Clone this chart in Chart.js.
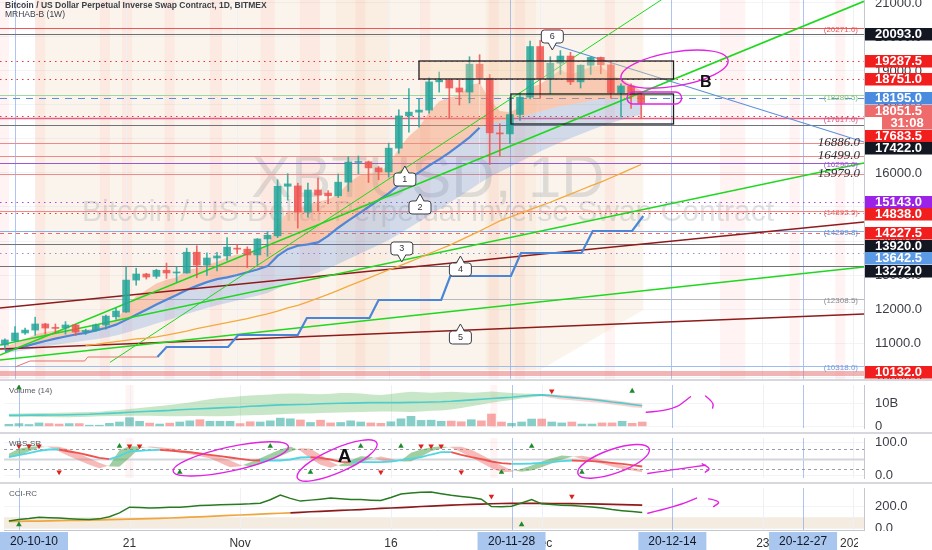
<!DOCTYPE html>
<html>
<head>
<meta charset="utf-8">
<title>XBTUSD 1D</title>
<script src="https://cdn.jsdelivr.net/npm/chart.js@4.4.1/dist/chart.umd.min.js"></script>
<style>
  html, body { margin: 0; padding: 0; background: #fff; }
  body { width: 932px; height: 550px; position: relative; overflow: hidden; }
  .pane { position: absolute; left: 0; width: 932px; }
  .sep { position: absolute; left: 0; width: 932px; height: 2px; background: #d6d8de; }
</style>
</head>
<body>
<div class="pane" style="top:0;height:379px"><canvas id="mainChart"></canvas></div>
<div class="sep" style="top:379px"></div>
<div class="pane" style="top:381px;height:51px"><canvas id="volChart"></canvas></div>
<div class="sep" style="top:432px"></div>
<div class="pane" style="top:434px;height:48px"><canvas id="wtChart"></canvas></div>
<div class="sep" style="top:482px"></div>
<div class="pane" style="top:484px;height:66px"><canvas id="cciChart"></canvas></div>
<script>
// day 0 = 2020-10-10, first candle is 2020-10-09
const FIRST_DAY = -1;

// daily candles, XBTUSD (BitMEX), 2020-10-09 .. 2020-12-11
const openP = [10940,11060,11295,11380,11560,11440,11440,11530,11330,11370,
  11530,11770,11910,12850,13030,12960,13140,13060,13060,13670,
  13290,13500,13560,13790,13760,13590,14060,14150,15610,15620,
  14850,15500,15410,15330,15730,16310,16330,16150,16030,16730,
  17680,17790,17850,18680,18730,18500,18380,19200,18790,17180,
  17150,17720,18230,19720,18770,19230,19440,18680,19170,19400,
  19180,18360,18560,18290];
const highP = [11120,11480,11440,11760,11580,11560,11630,11550,11410,11560,
  11820,12020,13230,13200,13050,13170,13350,13250,13790,13860,
  13650,13670,14100,13900,13830,14070,14280,15800,15980,15700,
  15700,15850,15480,15970,16480,16500,16350,16190,16880,17860,
  18480,18180,18800,18970,18760,18740,19420,19480,18900,17450,
  18230,18350,19880,19900,19420,19600,19550,19180,19420,19410,
  19290,18620,18620,18360];
const lowP = [10830,11060,11250,11230,11260,11300,11260,11220,11250,11340,
  11410,11690,11900,12700,12880,12900,12900,12800,13050,12920,
  12990,13120,13430,13640,13220,13300,13550,14100,15200,14380,
  14700,14870,15100,15280,15460,15980,15720,15800,15880,16580,
  17200,17350,17760,18380,17620,18000,18060,18620,16250,16500,
  16870,17550,18180,18200,18330,18900,18600,18500,18900,18920,
  18200,17650,17900,17600];
const closeP = [11090,11295,11380,11560,11440,11430,11530,11320,11370,11530,
  11790,11940,12850,13030,12940,13140,13060,13070,13670,13290,
  13500,13560,13820,13760,13590,14060,14170,15610,15680,14850,
  15500,15350,15330,15730,16320,16330,16150,16030,16730,17680,
  17790,17850,18680,18730,18500,18380,19200,18790,17180,17150,
  17720,18230,19720,18770,19230,19440,18680,19170,19400,19180,
  18360,18560,18290,18051.5];

// MRHAB ribbon
const emaFast = [10900,11000,11120,11250,11320,11360,11410,11390,11390,11430,
  11550,11680,12050,12380,12560,12750,12860,12930,13150,13200,
  13300,13380,13520,13600,13600,13750,13890,14460,14870,14860,
  15070,15160,15220,15390,15700,15910,15990,16000,16240,16720,
  17080,17340,17790,18100,18230,18280,18590,18650,18160,17820,
  17790,17940,18530,18610,18820,19030,18910,18990,19130,19150,
  18880,18770,18610,18420];
const emaSlow = [10760,10830,10900,10980,11060,11130,11190,11250,11300,11370,
  11440,11540,11680,11830,11980,12130,12270,12410,12560,12680,
  12790,12880,12930,13000,13080,13160,13260,13560,13760,13860,
  13900,13960,14150,14390,14600,14800,15000,15200,15400,15640,
  15830,16020,16220,16400,16600,16820,17050,17330,17450,17530,
  17580,17640,17730,17800,17880,17960,18010,18060,18120,18160,
  18170,18180,18180,18170];
const emaSlowLow = [10700,10740,10790,10840,10890,10940,10990,11030,11070,11110,
  11160,11220,11300,11390,11480,11570,11660,11750,11850,11940,
  12030,12110,12180,12250,12320,12390,12470,12600,12730,12850,
  12960,13070,13190,13320,13460,13600,13740,13880,14030,14200,
  14380,14560,14750,14930,15120,15310,15500,15700,15880,16030,
  16180,16330,16480,16630,16770,16900,17020,17140,17260,17370,
  17470,17560,17640,17710];
const maOrange = [null,null,null,null,null,null,null,null,
  10930,10960,11000,11040,11080,11120,11140,11180,11230,11290,
  11350,11420,11480,11540,11600,11660,11720,11790,11860,11940,
  12030,12110,12210,12320,12430,12550,12670,12790,12910,13030,
  13150,13260,13380,13500,13630,13750,13870,14010,14150,14290,
  14440,14590,14700,14810,14920,15030,15140,15260,15380,15500,
  15620,15730,15860,15990,16120,16250];

// weekly step level (MRHAB-B 1W)
const blueStepDays = [14.1,15.0,21.1,22.1,28.0,28.9,35.1,36.0,42.2,43.1,49.1,50.1,56.1,57.2,61.1,62.2];
const blueStepPrices = [10588,10883,10883,11236,11236,11736,11736,12265,12265,12971,12971,13647,13647,14294,14294,14735];
const redStepDays = [0,1.5,6.9,7.2,14.1];
const redStepPrices = [10294,10471,10471,10588,10588];

// trend lines [day, price] -> [day, price]
const greenTrends = [
  [[-1.485,10647],[84.06,21050]],
  [[-1.485,10941],[84.06,16294]],
  [[-1.485,10500],[84.06,13235]],
  [[9.4,10430],[65,21290]]
];
const maroonTrends = [
  [[-1.485,12030],[84.06,14559]],
  [[-1.485,10824],[84.06,11853]]
];
const blueTrend = [[52.5,19853],[84.06,16912]];

// horizontal levels
const levelPrices = [20271,20093,19287.5,18751,18280.5,18195,17683.5,17617,17422,16886,16499,16290,15979,
  15143,14892.5,14838,14299.8,14227.5,13920,13642.5,13272,12308.5,10318,10132];
const tagPrices = [20271,18280.5,17617,16290,14892.5,14299.8,12308.5,10318];
const italicTagPrices = [16886,16499,15979];

// right axis price labels
const axisLabelPrices = [20093,19287.5,18751,18195,18051.5,17683.5,17422,15143,14838,14227.5,13920,13642.5,13272,10132];
const countdownText = '31:08';

// zones and annotations
const zoneBoxes = [[40.0,65.2,18765,19294],[49.1,65.2,17441,18324]];
const calloutLabels = ['1','2','3','4','5','6'];
const calloutDays = [38.6,40.1,38.3,44.1,44.1,53.2];
const calloutPrices = [16206,15383,13383,13559,11559,19618];
const calloutDirs = ['up','up','down','up','up','down'];
const beigeZone = [[2,21088],[62.2,21088],[62.2,11970],[52,10206],[2,10206]];
const beigeBands = [[31.8,37],[46.6,51.6]];
const mainStripes = [[-1.5,-0.6],[2,3],[8.4,9.4],[10.6,11.6],[14.8,15.8],[19.3,20.5],[24.3,25.7],[28.2,30.2],
  [33.7,34.7],[40.1,41.1],[46.9,47.9],[49.5,50.5],[58.4,59.4],[69.8,72.3],[76.7,77.7],[81.2,82.2]];
const lowerStripes = [[10.6,11.4],[46.9,47.6]];
const ellipseB = [60.0,18790,70.6,19320];
const pillB = [60.6,66.0,18383,18030];
const letterB = [68.4,18647];

// volume pane (billions)
const volumeB = [0.9,1.2,0.8,1.5,1.2,1.0,1.2,1.2,0.5,0.5,
  1.3,1.9,3.8,2.2,1.4,1.0,1.4,1.9,2.4,2.9,
  2.2,2.2,2.2,1.2,2.0,1.9,2.4,3.6,3.3,2.8,
  1.7,2.7,1.5,1.7,2.4,1.9,1.5,1.3,2.0,3.3,
  4.4,2.6,2.7,2.2,2.3,2.0,2.9,2.4,5.4,1.9,
  1.3,1.9,3.2,3.2,1.9,1.5,1.9,1.0,1.0,1.5,
  1.5,2.2,1.3,1.9];
const volMA = [4.8,4.8,4.9,4.9,5.0,5.0,5.1,5.2,5.3,5.5,
  5.7,5.9,6.2,6.4,6.6,6.8,7.0,7.3,7.5,7.7,
  7.9,8.1,8.3,8.5,8.8,9.0,9.2,9.4,9.5,9.6,
  9.7,9.9,10.0,10.1,10.2,10.3,10.4,10.4,10.4,10.4,
  10.5,10.6,10.7,10.8,11.0,11.3,11.6,11.9,12.2,12.5,
  12.8,13.2,13.6,13.8,13.5,13.0,12.6,12.2,11.8,11.3,
  10.7,10.2,9.6,9.0];
const volUpper = [5.5,5.6,5.7,5.8,5.9,6.0,6.1,6.2,6.3,6.4,
  6.8,7.2,7.6,8.0,8.5,8.9,9.4,9.9,10.5,11.2,
  11.9,12.4,12.8,13.2,13.5,13.8,14.0,14.3,14.4,14.4,
  14.2,14.1,14.3,14.6,14.6,14.4,14.0,13.8,14.2,14.8,
  15.2,15.0,14.8,15.0,15.2,15.0,14.8,15.0,15.3,15.0,
  14.6,14.4,14.3,14.2,14.0,13.8,13.4,13.0,12.6,12.0,
  11.6,11.0,10.4,10.0];
const volLower = [4.2,4.2,4.2,4.1,4.1,4.0,4.0,4.1,4.2,4.4,
  4.5,4.5,4.6,4.6,4.6,4.5,4.4,4.4,4.5,4.5,
  4.4,4.4,4.5,4.7,4.9,5.0,5.1,5.3,5.5,5.6,
  5.6,5.8,6.0,6.1,6.2,6.3,6.4,6.5,6.5,6.4,
  6.3,6.5,6.8,7.0,7.4,8.0,8.8,9.6,10.3,11.0,
  11.6,12.2,12.8,13.2,12.4,11.8,11.4,11.0,10.6,10.2,
  9.6,9.0,8.4,8.0];
const volUpDays = [0,61], volUpValues = [17,15.5];
const volDownDays = [53], volDownValues = [15.5];
const volArrow = [[[62.4,6.2],[65.0,6.8],[66.8,13.0]],[[68.3,13.3],[69.1,10.5],[69.0,8.0]]];

// wave trend pane
const wtMain = [55,61,67,74,78,78,72,67,60,53,
  49,58,72,74,76,77,75,72,70,66,
  62,58,54,50,46,45,45,45,48,54,
  55,53,48,41,40,40,40,40,42,46,
  50,55,63,70,70,62,55,49,42,37,
  35,35,36,38,40,43,45,44,43,41,
  38,35,31,27];
const wtFast = [65,80,86,88,85,72,58,45,32,22,
  30,76,88,87,84,80,76,70,64,58,
  52,38,25,28,40,52,65,78,87,74,
  50,32,23,33,45,58,56,45,40,45,
  68,78,85,88,84,70,55,38,22,10,
  11,20,30,42,52,60,58,50,43,35,
  27,20,15,10];
const wtSlow = [55,60,72,83,87,86,78,65,52,38,
  27,26,53,82,87,85,82,78,73,67,
  61,55,45,32,27,34,46,58,71,82,
  80,62,41,28,28,39,51,57,50,42,
  42,56,73,81,86,86,77,62,46,30,
  16,11,15,25,36,47,56,59,54,46,
  39,31,23,17];
const wtTopRedDays = [0,1,2,11,12,40,41,42];
const wtTopGreenDays = [10,25,34,38,51];
const wtBotRedDays = [4,36,44];
const wtBotGreenDays = [16,29,48,56];
const wtTopLevel = 88, wtBotLevel = 10;
const wtBands = [80,50,20];
const wtEllipses = [[15.35,12.5,26.8,87.5],[27.7,-7.5,35.6,97.5],[55.6,5,62.7,80]];
const wtArrow = [[[62.56,5.8],[66.2,22.5],[68.3,30.8]],[[67.97,35],[68.86,22.5],[68.27,10]]];
const letterA = [32.4,55];

// CCI pane
const cci = [65,80,88,100,95,92,86,82,80,85,
  105,140,192,188,183,186,190,192,198,206,
  210,214,217,219,222,228,260,303,272,247,
  256,265,275,268,262,261,256,253,280,312,
  320,328,330,315,300,290,280,265,197,196,
  200,230,261,222,215,210,206,200,194,185,
  170,160,152,144];
const cciSlow = [61,62,64,65,67,68,70,72,74,76,
  78,80,82,84,87,90,93,97,100,104,
  108,112,116,120,124,128,132,136,140,145,
  150,154,158,162,166,170,175,180,184,188,
  193,198,202,206,210,214,217,220,223,225,
  226,226,226,226,225,225,224,223,221,219,
  217,215,213,211];
const cciUpDays = [0,50], cciDownDays = [47,55];
const cciUpLevel = 33, cciDownLevel = 290;
const cciZone = [0,100];
const cciArrow = [[[62.56,136],[65.6,206],[67.4,275]],[[68.6,267],[69.9,247],[69.1,197]]];

// time axis
const xTickDays = [11,22,37,52,74,83];
const xTickLabels = ['21','Nov','16','Dec','23','2021'];
const markerDays = [0,49,65,78];
const markerLabels = ['20-10-10','20-11-28','20-12-14','20-12-27'];

// ---------------------------------------------------------------
const X_MIN = -1.485, X_MAX = 84.06, AXIS_W = 68;
const FONT = '"Liberation Sans", Arial, sans-serif';
const TEAL = 'rgba(38,166,154,0.85)', RED = 'rgba(239,83,80,0.85)';
const MAGENTA = '#e323e3';

Chart.defaults.animation = false;
Chart.defaults.responsive = true;
Chart.defaults.maintainAspectRatio = false;
Chart.defaults.events = [];
Chart.defaults.font.family = FONT;
Chart.defaults.plugins.legend.display = false;
Chart.defaults.plugins.tooltip.enabled = false;
Chart.defaults.elements.point.radius = 0;
Chart.defaults.elements.line.tension = 0;
Chart.defaults.layout.padding = 0;

const dayOf = i => i + FIRST_DAY;
const pts = arr => arr.map((v, i) => ({x: dayOf(i), y: v}));
const pairPts = (days, vals) => days.map((d, i) => ({x: d, y: vals[i]}));
const segPts = seg => seg.map(([d, v]) => ({x: d, y: v}));
const isUp = closeP.map((c, i) => c >= openP[i]);

// the label padding of the axes must not shrink the plot area
function noPadding(sc) {
  sc.paddingTop = 0; sc.paddingBottom = 0; sc.paddingLeft = 0; sc.paddingRight = 0;
}

function xScale(showLabels) {
  const s = {type: 'linear', min: X_MIN, max: X_MAX, display: showLabels, offset: false};
  if (showLabels) {
    Object.assign(s, {
      afterBuildTicks: sc => { sc.ticks = xTickDays.map(v => ({value: v})); },
      afterFit: sc => { sc.height = 20; noPadding(sc); },
      ticks: {autoSkip: false, maxRotation: 0, padding: -2, color: '#333', font: {size: 12},
        callback: v => xTickLabels[xTickDays.indexOf(v)]},
      grid: {display: false},
      border: {display: true, color: '#c4c7ce'}
    });
  }
  return s;
}

function yScale(min, max, ticks, fmt) {
  return {
    position: 'right', min, max,
    afterFit: sc => { sc.width = AXIS_W; noPadding(sc); },
    afterBuildTicks: sc => { sc.ticks = ticks.map(v => ({value: v})); },
    ticks: {callback: fmt, color: '#3a3d45', font: {size: 13}, padding: 11},
    grid: {color: '#f3f4f7', drawTicks: false},
    border: {display: true, color: '#c4c7ce'}
  };
}

function lineDs(data, color, width, extra) {
  return Object.assign({type: 'line', data, borderColor: color, borderWidth: width, pointRadius: 0, fill: false, order: 2}, extra || {});
}

function markerDs(days, values, color, down) {
  return {type: 'line', data: pairPts(days, values), showLine: false, pointRadius: 3.2,
    pointStyle: 'triangle', pointRotation: down ? 180 : 0, pointBackgroundColor: color,
    pointBorderColor: color, pointBorderWidth: 0, order: 0};
}

function clipArea(ctx, a) {
  ctx.beginPath(); ctx.rect(a.left, a.top, a.right - a.left, a.bottom - a.top); ctx.clip();
}

function drawBackdrop(chart, stripes) {
  const {ctx, chartArea: a, scales: {x}} = chart;
  ctx.fillStyle = 'rgba(255,90,90,0.075)';
  stripes.forEach(([d0, d1]) => {
    const x0 = x.getPixelForValue(d0), x1 = x.getPixelForValue(d1);
    ctx.fillRect(x0, a.top, x1 - x0, a.bottom - a.top);
  });
  ctx.lineWidth = 1;
  ctx.strokeStyle = '#edf0f5';
  xTickDays.forEach(d => {
    const px = Math.round(x.getPixelForValue(d)) + 0.5;
    ctx.beginPath(); ctx.moveTo(px, a.top); ctx.lineTo(px, a.bottom); ctx.stroke();
  });
  ctx.strokeStyle = 'rgba(110,150,230,0.55)';
  markerDays.forEach(d => {
    const px = Math.round(x.getPixelForValue(d)) + 0.5;
    ctx.beginPath(); ctx.moveTo(px, a.top); ctx.lineTo(px, a.bottom); ctx.stroke();
  });
}

function paneTitle(chart, text) {
  const {ctx, chartArea: a} = chart;
  ctx.save();
  ctx.font = '8px ' + FONT; ctx.fillStyle = '#55585f';
  ctx.textAlign = 'left'; ctx.textBaseline = 'middle';
  ctx.fillText(text, a.left + 5, a.top + 6);
  ctx.restore();
}

function smoothPath(ctx, x, y, seg) {
  const p = seg.map(([d, v]) => [x.getPixelForValue(d), y.getPixelForValue(v)]);
  ctx.beginPath(); ctx.moveTo(p[0][0], p[0][1]);
  for (let i = 1; i < p.length - 1; i++) {
    const mx = (p[i][0] + p[i + 1][0]) / 2, my = (p[i][1] + p[i + 1][1]) / 2;
    ctx.quadraticCurveTo(p[i][0], p[i][1], mx, my);
  }
  const l = p[p.length - 1];
  ctx.lineTo(l[0], l[1]);
  ctx.stroke();
}

function ellipseByAxis(ctx, x, y, e, minor) {
  const [d1, v1, d2, v2] = e;
  const x1 = x.getPixelForValue(d1), y1 = y.getPixelForValue(v1);
  const x2 = x.getPixelForValue(d2), y2 = y.getPixelForValue(v2);
  ctx.beginPath();
  ctx.ellipse((x1 + x2) / 2, (y1 + y2) / 2, Math.hypot(x2 - x1, y2 - y1) / 2, minor, Math.atan2(y2 - y1, x2 - x1), 0, Math.PI * 2);
  ctx.stroke();
}

function drawMagenta(chart, paths) {
  const {ctx, scales: {x, y}} = chart;
  ctx.save();
  ctx.strokeStyle = MAGENTA; ctx.lineWidth = 1.4; ctx.lineCap = 'round'; ctx.lineJoin = 'round';
  paths.forEach(seg => smoothPath(ctx, x, y, seg));
  ctx.restore();
}

// ---------------- main price pane ----------------
const levelStyles = [
  {c: '#f0555a', w: 1}, {c: '#6b6e75', w: 1},
  {c: '#e53935', w: 1.2, dash: [1.5, 4]}, {c: '#e53935', w: 1.2, dash: [1.5, 4]},
  {c: '#9fd89f', w: 1}, {c: '#5b8fd9', w: 1.2, dash: [7, 6]},
  {c: '#e53935', w: 1.2, dash: [1.5, 4]}, {c: '#e0608a', w: 1.3},
  {c: '#70737a', w: 1}, {c: '#ef8a8a', w: 1}, {c: '#ef8a8a', w: 1},
  {c: '#9b59d0', w: 1}, {c: '#ef8a8a', w: 1},
  {c: '#a34be0', w: 1.2, dash: [1.5, 4]}, {c: '#ef8a8a', w: 1},
  {c: '#e53935', w: 1.2, dash: [1.5, 4]}, {c: '#86b0ea', w: 1.2},
  {c: '#ef6b6b', w: 1, dash: [4, 4]}, {c: '#70737a', w: 1},
  {c: '#9a8ccf', w: 1, dash: [1.5, 4]}, {c: '#70737a', w: 1},
  {c: '#b7b9bf', w: 1}, {c: '#9dbdf0', w: 1.2},
  {c: 'rgba(229,120,120,0.55)', w: 5}
];
const tagColors = ['#e8585c', '#7cc47c', '#d9577f', '#9b59d0', '#e07070', '#5b8fd9', '#8a8d94', '#6f9be0'];
const axisLabelColors = ['#131722', '#f21d1d', '#f21d1d', '#4a8be0', '#ef6a6a', '#f21d1d', '#131722',
  '#9b22e6', '#f21d1d', '#f21d1d', '#131722', '#5b9be6', '#131722', '#f21d1d'];

const mainDecor = {
  id: 'mainDecor',
  beforeDatasetsDraw(chart) {
    const {ctx, chartArea: a, scales: {x, y}} = chart;
    ctx.save();
    clipArea(ctx, a);
    // shaded zone
    ctx.fillStyle = 'rgba(238,205,168,0.22)';
    ctx.beginPath();
    beigeZone.forEach(([d, p], i) => {
      const px = x.getPixelForValue(d), py = y.getPixelForValue(p);
      if (i === 0) ctx.moveTo(px, py); else ctx.lineTo(px, py);
    });
    ctx.closePath(); ctx.fill();
    ctx.fillStyle = 'rgba(230,190,150,0.13)';
    beigeBands.forEach(([d0, d1]) => {
      const x0 = x.getPixelForValue(d0), x1 = x.getPixelForValue(d1);
      ctx.fillRect(x0, a.top, x1 - x0, y.getPixelForValue(10206) - a.top);
    });
    drawBackdrop(chart, mainStripes);
    // watermark
    ctx.fillStyle = 'rgba(120,123,134,0.22)';
    ctx.textAlign = 'center'; ctx.textBaseline = 'middle';
    ctx.font = '60px ' + FONT;
    ctx.fillText('XBTUSD, 1D', 428, 180);
    ctx.font = '30px ' + FONT;
    ctx.fillText('Bitcoin / US Dollar Perpetual Inverse Swap Contract', 428, 213);
    // horizontal levels
    levelPrices.forEach((p, i) => {
      const s = levelStyles[i];
      const py = Math.round(y.getPixelForValue(p)) + 0.5;
      ctx.strokeStyle = s.c; ctx.lineWidth = s.w; ctx.setLineDash(s.dash || []);
      ctx.beginPath(); ctx.moveTo(a.left, py); ctx.lineTo(a.right, py); ctx.stroke();
    });
    ctx.setLineDash([]);
    ctx.restore();
  },
  afterDatasetsDraw(chart) {
    const {ctx, chartArea: a, scales: {x, y}} = chart;
    ctx.save();
    clipArea(ctx, a);
    // zone boxes
    zoneBoxes.forEach(([d0, d1, p0, p1], i) => {
      const x0 = x.getPixelForValue(d0), x1 = x.getPixelForValue(d1);
      const y0 = y.getPixelForValue(p1), y1 = y.getPixelForValue(p0);
      if (i === 0) { ctx.fillStyle = 'rgba(250,212,168,0.35)'; ctx.fillRect(x0, y0, x1 - x0, y1 - y0); }
      ctx.strokeStyle = '#1e1f24'; ctx.lineWidth = 1.3;
      ctx.strokeRect(x0, y0, x1 - x0, y1 - y0);
    });
    // magenta marks around B
    ctx.strokeStyle = MAGENTA; ctx.lineWidth = 1.4;
    ellipseByAxis(ctx, x, y, ellipseB, 17);
    const [pd0, pd1, pp0, pp1] = pillB;
    const px0 = x.getPixelForValue(pd0), px1 = x.getPixelForValue(pd1);
    const py0 = y.getPixelForValue(pp0), py1 = y.getPixelForValue(pp1);
    ctx.beginPath(); ctx.roundRect(px0, py0, px1 - px0, py1 - py0, 6); ctx.stroke();
    ctx.fillStyle = '#111'; ctx.font = 'bold 16px ' + FONT;
    ctx.textAlign = 'center'; ctx.textBaseline = 'middle';
    ctx.fillText('B', x.getPixelForValue(letterB[0]), y.getPixelForValue(letterB[1]));
    // wave callouts
    calloutLabels.forEach((t, i) => {
      const tx = x.getPixelForValue(calloutDays[i]), ty = y.getPixelForValue(calloutPrices[i]);
      const w = 22, h = 13, gap = 7, up = calloutDirs[i] === 'up';
      const top = up ? ty + gap : ty - gap - h;
      ctx.fillStyle = '#fff'; ctx.strokeStyle = '#3b3d44'; ctx.lineWidth = 1;
      ctx.beginPath(); ctx.roundRect(tx - w / 2, top, w, h, 3); ctx.fill(); ctx.stroke();
      const base = up ? top + 1 : top + h - 1;
      ctx.beginPath(); ctx.moveTo(tx - 4, base); ctx.lineTo(tx, ty); ctx.lineTo(tx + 4, base); ctx.closePath(); ctx.fill();
      ctx.beginPath(); ctx.moveTo(tx - 4, up ? top : top + h); ctx.lineTo(tx, ty); ctx.lineTo(tx + 4, up ? top : top + h); ctx.stroke();
      ctx.fillStyle = '#333'; ctx.font = '9px ' + FONT;
      ctx.fillText(t, tx, top + h / 2 + 0.5);
    });
    // level tags near right edge
    ctx.textAlign = 'right'; ctx.textBaseline = 'middle';
    ctx.font = '8px ' + FONT;
    tagPrices.forEach((p, i) => {
      ctx.fillStyle = tagColors[i];
      ctx.fillText('(' + p.toFixed(1) + ')', a.right - 6, y.getPixelForValue(p) + 2);
    });
    ctx.font = 'italic 13px "Liberation Serif", serif'; ctx.fillStyle = '#2c2e33';
    italicTagPrices.forEach(p => ctx.fillText(p.toFixed(1), a.right - 4, y.getPixelForValue(p)));
    ctx.restore();
  },
  afterDraw(chart) {
    const {ctx, chartArea: a, scales: {y}} = chart;
    ctx.save();
    ctx.textAlign = 'left'; ctx.textBaseline = 'middle';
    ctx.fillStyle = '#3d4048'; ctx.font = 'bold 8.5px ' + FONT;
    ctx.fillText('Bitcoin / US Dollar Perpetual Inverse Swap Contract, 1D, BITMEX', 5, 6);
    ctx.font = '8.5px ' + FONT;
    ctx.fillText('MRHAB-B (1W)', 5, 15);
    // price labels on the axis, stacked so they do not overlap
    const last = closeP[closeP.length - 1];
    const items = axisLabelPrices.map((p, i) => ({y: y.getPixelForValue(p), text: p.toFixed(1), bg: axisLabelColors[i], k: i}));
    const ci = axisLabelPrices.indexOf(last);
    items.push({y: y.getPixelForValue(last), text: countdownText, bg: axisLabelColors[ci], k: ci + 0.5, countdown: true});
    items.sort((m, n) => (m.y - n.y) || (m.k - n.k));
    const H = 12.5;
    for (let i = 1; i < items.length; i++) {
      if (items[i].y < items[i - 1].y + H) items[i].y = items[i - 1].y + H;
    }
    ctx.font = 'bold 13px ' + FONT;
    items.forEach(it => {
      const top = Math.round(it.y - H / 2);
      if (it.countdown) {
        ctx.fillStyle = '#fff'; ctx.fillRect(a.right + 1, top, 17, H);
        ctx.fillStyle = it.bg; ctx.fillRect(a.right + 18, top, AXIS_W - 18, H);
        ctx.fillStyle = '#fff'; ctx.textAlign = 'center';
        ctx.fillText(it.text, a.right + 43, top + H / 2 + 0.5);
        ctx.textAlign = 'left';
      } else {
        ctx.fillStyle = it.bg; ctx.fillRect(a.right + 1, top, AXIS_W, H);
        ctx.fillStyle = '#fff';
        ctx.fillText(it.text, a.right + 11, top + H / 2 + 0.5);
      }
    });
    ctx.restore();
  }
};

new Chart(document.getElementById('mainChart'), {
  type: 'bar',
  data: {
    datasets: [
      {type: 'bar', data: lowP.map((l, i) => ({x: dayOf(i), y: [l, highP[i]]})),
        backgroundColor: isUp.map(u => u ? TEAL : RED), barThickness: 1, grouped: false, order: 0},
      {type: 'bar', data: openP.map((o, i) => ({x: dayOf(i), y: [o, closeP[i]]})),
        backgroundColor: isUp.map(u => u ? TEAL : RED), barThickness: 7, minBarLength: 1, grouped: false, order: 0},
      lineDs(pts(emaFast), 'rgba(0,0,0,0)', 0, {fill: {target: 3, above: 'rgba(244,148,108,0.45)', below: 'rgba(80,180,200,0.3)'}, order: 6}),
      lineDs(pts(emaSlow), '#4f86d6', 2.2, {fill: {target: 4}, backgroundColor: 'rgba(92,140,220,0.26)', order: 5,
        segment: {borderColor: c => c.p0.parsed.x >= 46 ? 'rgba(0,0,0,0)' : '#4f86d6', backgroundColor: 'rgba(92,140,220,0.26)'}}),
      lineDs(pts(emaSlowLow), 'rgba(0,0,0,0)', 0, {order: 6}),
      lineDs(pts(maOrange), '#f5a93c', 1.3),
      lineDs(pairPts(blueStepDays, blueStepPrices), '#4a86d8', 2.2),
      lineDs(pairPts(redStepDays, redStepPrices), '#e57373', 1),
      ...greenTrends.map((t, i) => lineDs(segPts(t), '#1ed81e', i === 3 ? 1 : 1.6)),
      ...maroonTrends.map(t => lineDs(segPts(t), '#8e1b1b', 1.5)),
      lineDs(segPts(blueTrend), '#5a8fd8', 1.1)
    ]
  },
  options: {
    scales: {
      x: xScale(false),
      y: yScale(9941.2, 21088.2, [10000,11000,12000,13000,14000,15000,16000,17000,18000,19000,20000,21000], v => v.toFixed(1))
    }
  },
  plugins: [mainDecor]
});

// ---------------- volume pane ----------------
const GREEN_BAND = 'rgba(110,190,110,0.38)', PINK_BAND = 'rgba(239,100,100,0.3)';
new Chart(document.getElementById('volChart'), {
  type: 'bar',
  data: {
    datasets: [
      {type: 'bar', data: pts(volumeB), backgroundColor: isUp.map(u => u ? 'rgba(38,166,154,0.55)' : 'rgba(239,83,80,0.5)'),
        barThickness: 8, grouped: false, order: 1},
      lineDs(pts(volMA), '#4fcdcb', 1.6, {order: 1}),
      lineDs(pts(volUpper), 'rgba(0,0,0,0)', 0, {fill: {target: 3}, backgroundColor: GREEN_BAND, order: 3,
        segment: {backgroundColor: c => c.p0.parsed.x >= 52 ? PINK_BAND : GREEN_BAND}}),
      lineDs(pts(volLower), 'rgba(0,0,0,0)', 0, {order: 3}),
      markerDs(volUpDays, volUpValues, '#1c8a2a', false),
      markerDs(volDownDays, volDownValues, '#e0201b', true)
    ]
  },
  options: {
    scales: {
      x: xScale(false),
      y: yScale(-0.74, 18.15, [0, 10], v => v === 0 ? '0' : v + 'B')
    }
  },
  plugins: [{
    id: 'volDecor',
    beforeDatasetsDraw(chart) {
      const {ctx, chartArea: a} = chart;
      ctx.save(); clipArea(ctx, a); drawBackdrop(chart, lowerStripes); ctx.restore();
    },
    afterDatasetsDraw(chart) { drawMagenta(chart, volArrow); },
    afterDraw(chart) { paneTitle(chart, 'Volume (14)'); }
  }]
});

// ---------------- wave trend pane ----------------
new Chart(document.getElementById('wtChart'), {
  type: 'line',
  data: {
    datasets: [
      lineDs(pts(wtMain), '#ef5350', 1.8, {order: 1,
        segment: {borderColor: c => c.p1.parsed.y < c.p0.parsed.y ? '#ef5350' : '#4fd6e3'}}),
      lineDs(pts(wtFast), 'rgba(0,0,0,0)', 0, {fill: {target: 2, above: 'rgba(80,170,85,0.55)', below: 'rgba(239,100,100,0.45)'}, order: 3}),
      lineDs(pts(wtSlow), 'rgba(0,0,0,0)', 0, {order: 3}),
      markerDs(wtTopRedDays, wtTopRedDays.map(() => wtTopLevel), '#e0201b', true),
      markerDs(wtTopGreenDays, wtTopGreenDays.map(() => wtTopLevel), '#1c8a2a', false),
      markerDs(wtBotRedDays, wtBotRedDays.map(() => wtBotLevel), '#e0201b', true),
      markerDs(wtBotGreenDays, wtBotGreenDays.map(() => wtBotLevel), '#1c8a2a', false)
    ]
  },
  options: {
    scales: {
      x: xScale(false),
      y: yScale(-7.5, 112.5, [0, 100], v => v.toFixed(1))
    }
  },
  plugins: [{
    id: 'wtDecor',
    beforeDatasetsDraw(chart) {
      const {ctx, chartArea: a, scales: {y}} = chart;
      ctx.save(); clipArea(ctx, a); drawBackdrop(chart, lowerStripes);
      wtBands.forEach((v, i) => {
        const py = Math.round(y.getPixelForValue(v)) + 0.5;
        ctx.strokeStyle = i === 1 ? '#d4d6dc' : '#9a9da5';
        ctx.lineWidth = i === 1 ? 2 : 1;
        ctx.setLineDash(i === 1 ? [] : [3, 3]);
        ctx.beginPath(); ctx.moveTo(a.left, py); ctx.lineTo(a.right, py); ctx.stroke();
      });
      ctx.restore();
    },
    afterDatasetsDraw(chart) {
      const {ctx, scales: {x, y}} = chart;
      ctx.save();
      ctx.strokeStyle = MAGENTA; ctx.lineWidth = 1.4;
      wtEllipses.forEach(e => ellipseByAxis(ctx, x, y, e, 12));
      ctx.fillStyle = '#111'; ctx.font = 'bold 19px ' + FONT;
      ctx.textAlign = 'center'; ctx.textBaseline = 'middle';
      ctx.fillText('A', x.getPixelForValue(letterA[0]), y.getPixelForValue(letterA[1]));
      ctx.restore();
      drawMagenta(chart, wtArrow);
    },
    afterDraw(chart) { paneTitle(chart, 'WBS-SR'); }
  }]
});

// ---------------- CCI pane ----------------
new Chart(document.getElementById('cciChart'), {
  type: 'line',
  data: {
    datasets: [
      lineDs(pts(cci), '#287a20', 1.5, {order: 1}),
      lineDs(pts(cciSlow), '#8e1b1b', 1.7, {order: 2,
        segment: {borderColor: c => c.p0.parsed.x < 27 ? '#f0a640' : '#8e1b1b'}}),
      markerDs(cciUpDays, cciUpDays.map(() => cciUpLevel), '#1c8a2a', false),
      markerDs(cciDownDays, cciDownDays.map(() => cciDownLevel), '#e0201b', true)
    ]
  },
  options: {
    scales: {
      x: xScale(true),
      y: yScale(-16.7, 366.7, [0, 200], v => v.toFixed(1))
    }
  },
  plugins: [{
    id: 'cciDecor',
    beforeDatasetsDraw(chart) {
      const {ctx, chartArea: a, scales: {y}} = chart;
      ctx.save(); clipArea(ctx, a);
      const y0 = y.getPixelForValue(cciZone[0]), y1 = y.getPixelForValue(cciZone[1]);
      ctx.fillStyle = 'rgba(236,218,196,0.5)';
      ctx.fillRect(a.left, y1, a.right - a.left, y0 - y1);
      drawBackdrop(chart, []);
      ctx.restore();
    },
    afterDatasetsDraw(chart) { drawMagenta(chart, cciArrow); },
    afterDraw(chart) {
      const {ctx, chartArea: a, scales: {x}} = chart;
      paneTitle(chart, 'CCI-RC');
      ctx.save();
      ctx.fillStyle = '#fff';
      ctx.fillRect(a.right - 6, a.bottom + 1, AXIS_W + 6, 20);
      ctx.font = '12px ' + FONT; ctx.textAlign = 'center'; ctx.textBaseline = 'middle';
      markerDays.forEach((d, i) => {
        const w = 68;
        const left = Math.max(0, x.getPixelForValue(d) - w / 2);
        ctx.fillStyle = '#a9c6ef';
        ctx.fillRect(left, a.bottom + 2, w, 18);
        ctx.fillStyle = '#131722';
        ctx.fillText(markerLabels[i], left + w / 2, a.bottom + 11.5);
      });
      ctx.restore();
    }
  }]
});
</script>
</body>
</html>
